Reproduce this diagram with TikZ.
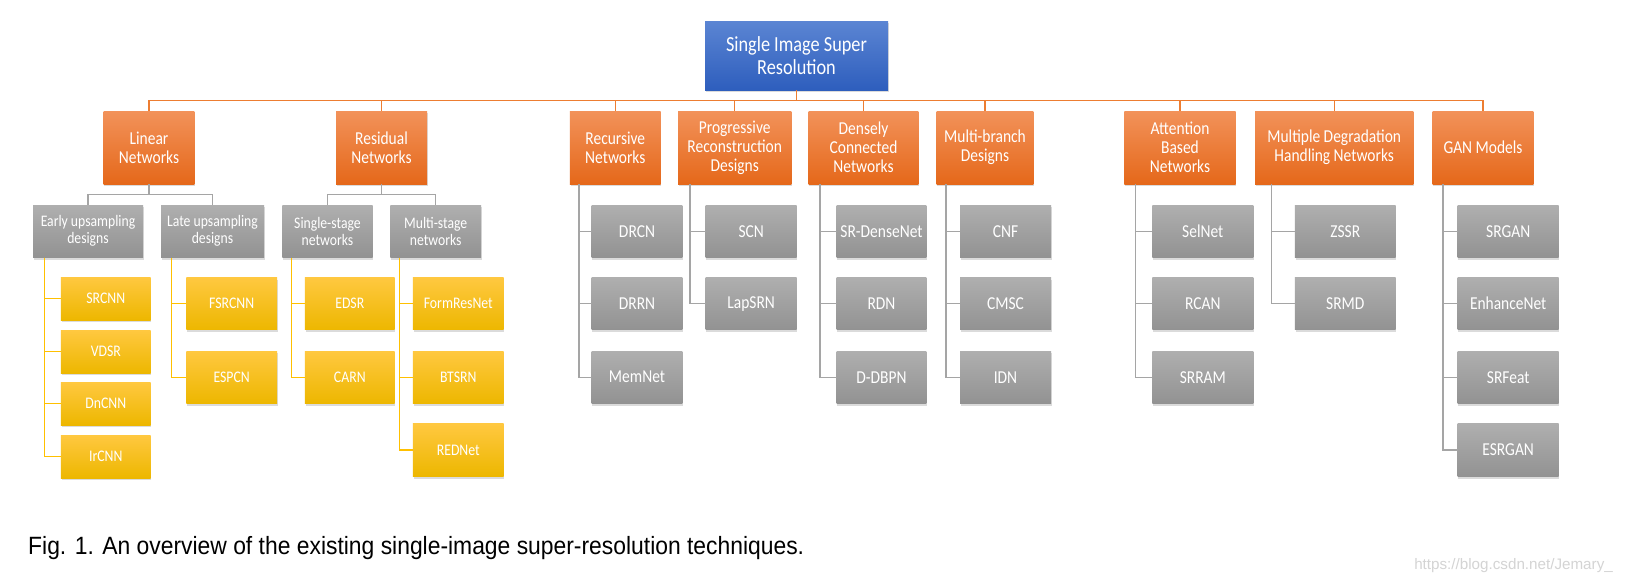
\documentclass[tikz,border=0pt]{standalone}
\usepackage{fontspec}
\setmainfont{Carlito}[FakeStretch=0.85]
\newfontfamily\capfont{Liberation Sans}[FakeStretch=0.915]
\newfontfamily\markfont{Liberation Sans}
\usetikzlibrary{shadows}

\definecolor{rootTop}{HTML}{5B85D3}
\definecolor{rootBot}{HTML}{2E5EBD}
\definecolor{catTop}{HTML}{F2925A}
\definecolor{catBot}{HTML}{E5681A}
\definecolor{grayTop}{HTML}{AFAFAF}
\definecolor{grayBot}{HTML}{929292}
\definecolor{yelTop}{HTML}{FFC840}
\definecolor{yelBot}{HTML}{EDB700}
\definecolor{orangeLine}{HTML}{ED7D31}
\definecolor{grayLine}{HTML}{A5A5A5}
\definecolor{yelLine}{HTML}{FFC000}

\tikzset{
  box/.style={draw=none, text=white, align=center, inner sep=0pt,
    drop shadow={shadow xshift=0.6pt, shadow yshift=-2.4pt, opacity=0.28}},
  rootbox/.style={box, top color=rootTop, bottom color=rootBot,
    minimum width=183pt, minimum height=69pt, font=\fontsize{21.5}{22.3}\selectfont},
  catbox/.style={box, top color=catTop, bottom color=catBot,
    minimum height=73pt, font=\fontsize{18.2}{19}\selectfont},
  subbox/.style={box, top color=grayTop, bottom color=grayBot,
    minimum height=52.3pt, font=\fontsize{16.1}{17}\selectfont},
  leafbox/.style={box, top color=grayTop, bottom color=grayBot,
    minimum height=52.3pt, font=\fontsize{18.2}{19}\selectfont},
  yelbox/.style={box, top color=yelTop, bottom color=yelBot,
    minimum height=52.3pt, font=\fontsize{16.2}{18}\selectfont},
  orangeline/.style={draw=orangeLine, line width=1.3pt},
  grayline/.style={draw=grayLine, line width=1.3pt},
  yelline/.style={draw=yelLine, line width=1.3pt}
}

\begin{document}
\begin{tikzpicture}[x=1pt, y=-1pt]
    \fill[white] (0,0) rectangle (1639,581);

    % Wurzel
    \node[rootbox] (root) at (796.5,55.5) {Single Image Super\\Resolution};

    % Kategorien
    \node[catbox, minimum width=90.6pt] (lin) at (149,147.5) {Linear\\Networks};
    \node[catbox, minimum width=91pt] (res) at (381.5,147.5) {Residual\\Networks};
    \node[catbox, minimum width=90.7pt] (rec) at (615.3,147.5) {Recursive\\Networks};
    \node[catbox, minimum width=113.3pt] (prog) at (734.7,147.5) {Progressive\\Reconstruction\\Designs};
    \node[catbox, minimum width=109.6pt] (dense) at (863.5,147.5) {Densely\\Connected\\Networks};
    \node[catbox, minimum width=96.6pt] (mbr) at (985,147.5) {Multi-branch\\Designs};
    \node[catbox, minimum width=111.4pt] (att) at (1180,147.5) {Attention\\Based\\Networks};
    \node[catbox, minimum width=158.3pt] (mdeg) at (1334.2,147.5) {Multiple Degradation\\Handling Networks};
    \node[catbox, minimum width=100.6pt] (gan) at (1483,147.5) {GAN Models};

    % Unterkategorien
    \node[subbox, minimum width=110pt] (early) at (88,231.2) {Early upsampling\\designs};
    \node[subbox, minimum width=103pt] (late) at (212.5,231.2) {Late upsampling\\designs};
    \node[subbox, minimum width=90.4pt] (single) at (327.5,231.2) {Single-stage\\networks};
    \node[subbox, minimum width=90.7pt] (multi) at (435.7,231.2) {Multi-stage\\networks};

    % Linear: gelbe Blaetter
    \node[yelbox, minimum width=89.7pt, minimum height=43pt] (srcnn) at (105.8,298.5) {SRCNN};
    \node[yelbox, minimum width=89.7pt, minimum height=43pt] (vdsr) at (105.8,351.5) {VDSR};
    \node[yelbox, minimum width=89.7pt, minimum height=43pt] (dncnn) at (105.8,403.5) {DnCNN};
    \node[yelbox, minimum width=89.7pt, minimum height=43pt] (ircnn) at (105.8,456.5) {IrCNN};
    \node[yelbox, minimum width=90.7pt] (fsrcnn) at (231.7,303.6) {FSRCNN};
    \node[yelbox, minimum width=90.7pt] (espcn) at (231.7,377.2) {ESPCN};

    % Residual: gelbe Blaetter
    \node[yelbox, minimum width=89.7pt] (edsr) at (349.8,303.6) {EDSR};
    \node[yelbox, minimum width=89.7pt] (carn) at (349.8,377.2) {CARN};
    \node[yelbox, minimum width=90.7pt] (formres) at (458.3,303.6) {FormResNet};
    \node[yelbox, minimum width=90.7pt] (btsrn) at (458.3,377.2) {BTSRN};
    \node[yelbox, minimum width=90.7pt] (rednet) at (458.3,450) {REDNet};

    % graue Blaetter
    \node[leafbox, minimum width=90.6pt] (drcn) at (637,231.2) {DRCN};
    \node[leafbox, minimum width=90.6pt] (drrn) at (637,303.6) {DRRN};
    \node[leafbox, minimum width=90.6pt] (memnet) at (637,377.2) {MemNet};

    \node[leafbox, minimum width=91pt] (scn) at (751.2,231.2) {SCN};
    \node[leafbox, minimum width=91pt] (lapsrn) at (751.2,303.6) {LapSRN};

    \node[leafbox, minimum width=89.6pt] (srdense) at (881.5,231.2) {SR-DenseNet};
    \node[leafbox, minimum width=89.6pt] (rdn) at (881.5,303.6) {RDN};
    \node[leafbox, minimum width=89.6pt] (ddbpn) at (881.5,377.2) {D-DBPN};

    \node[leafbox, minimum width=91pt] (cnf) at (1005.5,231.2) {CNF};
    \node[leafbox, minimum width=91pt] (cmsc) at (1005.5,303.6) {CMSC};
    \node[leafbox, minimum width=91pt] (idn) at (1005.5,377.2) {IDN};

    \node[leafbox, minimum width=101pt] (selnet) at (1202.8,231.2) {SelNet};
    \node[leafbox, minimum width=101pt] (rcan) at (1202.8,303.6) {RCAN};
    \node[leafbox, minimum width=101pt] (srram) at (1202.8,377.2) {SRRAM};

    \node[leafbox, minimum width=100.7pt] (zssr) at (1345.3,231.2) {ZSSR};
    \node[leafbox, minimum width=100.7pt] (srmd) at (1345.3,303.6) {SRMD};

    \node[leafbox, minimum width=101pt] (srgan) at (1508.2,231.2) {SRGAN};
    \node[leafbox, minimum width=101pt] (enhance) at (1508.2,303.6) {EnhanceNet};
    \node[leafbox, minimum width=101pt] (srfeat) at (1508.2,377.2) {SRFeat};
    \node[leafbox, minimum width=101pt] (esrgan) at (1508.2,450) {ESRGAN};

    % Verbindungen Wurzel -> Kategorien
    \foreach \c in {lin,res,rec,prog,dense,mbr,att,mdeg,gan}
        \draw[orangeline] (root.south) -- ++(0,10.5) -| (\c.north);

    % Verbindungen Kategorien -> Unterkategorien
    \draw[grayline] (lin.south) -- ++(0,10) -| (early.north);
    \draw[grayline] (lin.south) -- ++(0,10) -| (late.north);
    \draw[grayline] (res.south) -- ++(0,10) -| (single.north);
    \draw[grayline] (res.south) -- ++(0,10) -| (multi.north);

    % gelbe Staemme
    \foreach \c in {srcnn,vdsr,dncnn,ircnn}
        \draw[yelline] ([xshift=11.7pt]early.south west) |- (\c.west);
    \foreach \c in {fsrcnn,espcn}
        \draw[yelline] ([xshift=10.7pt]late.south west) |- (\c.west);
    \foreach \c in {edsr,carn}
        \draw[yelline] ([xshift=9.4pt]single.south west) |- (\c.west);
    \foreach \c in {formres,btsrn,rednet}
        \draw[yelline] ([xshift=9.4pt]multi.south west) |- (\c.west);

    % graue Staemme
    \foreach \c in {drcn,drrn,memnet}
        \draw[grayline] ([xshift=9.3pt]rec.south west) |- (\c.west);
    \foreach \c in {scn,lapsrn}
        \draw[grayline] ([xshift=12pt]prog.south west) |- (\c.west);
    \foreach \c in {srdense,rdn,ddbpn}
        \draw[grayline] ([xshift=11.6pt]dense.south west) |- (\c.west);
    \foreach \c in {cnf,cmsc,idn}
        \draw[grayline] ([xshift=9.6pt]mbr.south west) |- (\c.west);
    \foreach \c in {selnet,rcan,srram}
        \draw[grayline] ([xshift=11.7pt]att.south west) |- (\c.west);
    \foreach \c in {zssr,srmd}
        \draw[grayline] ([xshift=16.7pt]mdeg.south west) |- (\c.west);
    \foreach \c in {srgan,enhance,srfeat,esrgan}
        \draw[grayline] ([xshift=10.6pt]gan.south west) |- (\c.west);

    % Bildunterschrift
    \node[font=\capfont\fontsize{25}{29}\selectfont, anchor=base west, inner sep=0pt] (caption) at (28,554)
        {Fig. 1. An overview of the existing single-image super-resolution techniques.};
    \node[font=\markfont\fontsize{15.2}{18}\selectfont, text=black!17, anchor=base east, inner sep=0pt] (mark) at (1613,569)
        {https://blog.csdn.net/Jemary\_};
\end{tikzpicture}
\end{document}
